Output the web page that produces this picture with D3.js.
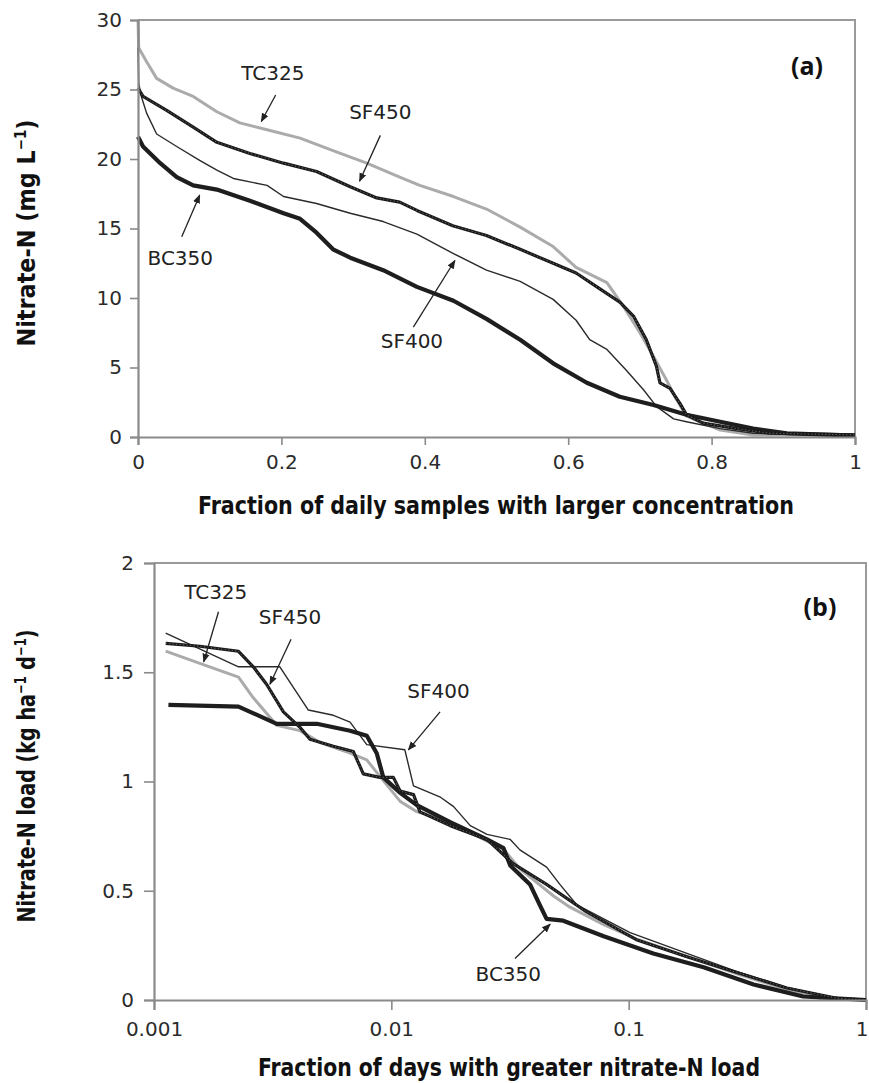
<!DOCTYPE html>
<html>
<head>
<meta charset="utf-8">
<script src="https://cdn.jsdelivr.net/npm/d3@7"></script>
<style>
  body { margin: 0; background: #fff; }
  svg { display: block; }
</style>
</head>
<body>
<div id="chart"></div>
<script>
var width = 869, height = 1083;

// (a) nitrate-N concentration duration curves  [fraction, mg/L]
var tc325A = [[0,30],[0.001,28],[0.012,27.0],[0.026,25.8],[0.049,25.1],[0.077,24.5],[0.110,23.4],[0.142,22.6],[0.180,22.1],[0.226,21.5],[0.272,20.6],[0.319,19.7],[0.365,18.7],[0.393,18.1],[0.440,17.3],[0.486,16.4],[0.533,15.1],[0.579,13.7],[0.611,12.2],[0.654,11.1],[0.677,9.4],[0.700,7.5],[0.719,5.8],[0.737,4.1],[0.751,2.7],[0.765,1.5],[0.812,0.5],[0.858,0.14],[1,0.1]];
var sf450A = [[0,25.1],[0.007,24.5],[0.040,23.5],[0.077,22.3],[0.110,21.2],[0.156,20.4],[0.203,19.7],[0.249,19.1],[0.296,18.0],[0.333,17.2],[0.365,16.9],[0.389,16.3],[0.439,15.2],[0.486,14.5],[0.533,13.5],[0.579,12.5],[0.611,11.8],[0.640,10.8],[0.672,9.7],[0.691,8.7],[0.709,7.0],[0.723,5.1],[0.728,3.9],[0.742,3.5],[0.756,2.4],[0.765,1.6],[0.788,1.0],[0.835,0.6],[0.881,0.27],[1,0.15]];
var sf400A = [[0,28],[0.001,25.5],[0.004,24.6],[0.012,23.3],[0.026,21.8],[0.054,20.9],[0.086,19.9],[0.110,19.2],[0.133,18.6],[0.180,18.1],[0.203,17.3],[0.249,16.8],[0.296,16.1],[0.342,15.5],[0.389,14.6],[0.440,13.2],[0.486,12.0],[0.533,11.2],[0.579,9.9],[0.611,8.4],[0.630,7.0],[0.654,6.3],[0.681,4.8],[0.705,3.4],[0.723,2.2],[0.747,1.3],[0.765,1.1],[0.812,0.6],[0.858,0.27],[1,0.12]];
var bc350A = [[0,21.6],[0.007,20.9],[0.031,19.7],[0.054,18.7],[0.077,18.1],[0.110,17.8],[0.156,17.0],[0.203,16.1],[0.226,15.7],[0.249,14.7],[0.272,13.5],[0.296,12.9],[0.342,12.0],[0.389,10.8],[0.440,9.8],[0.486,8.5],[0.533,7.0],[0.579,5.3],[0.626,3.9],[0.672,2.9],[0.719,2.3],[0.765,1.6],[0.812,1.1],[0.858,0.6],[0.905,0.27],[1,0.1]];

// (b) nitrate-N load duration curves  [fraction, kg/ha/d]
var tc325B = [[0.00112,1.597],[0.00156,1.541],[0.00227,1.478],[0.00262,1.383],[0.00329,1.257],[0.00412,1.233],[0.00501,1.178],[0.0067,1.130],[0.00788,1.099],[0.00925,1.004],[0.0109,0.909],[0.0128,0.862],[0.0177,0.814],[0.0253,0.727],[0.0297,0.690],[0.0348,0.600],[0.0408,0.540],[0.0484,0.475],[0.0566,0.425],[0.0785,0.345],[0.1077,0.280],[0.176,0.200],[0.286,0.120],[0.464,0.048],[0.64,0.008],[1,0]];
var sf450B = [[0.00112,1.632],[0.00156,1.619],[0.00227,1.596],[0.00262,1.525],[0.00298,1.445],[0.00351,1.319],[0.00412,1.248],[0.00454,1.193],[0.0057,1.161],[0.00692,1.137],[0.00762,1.035],[0.00894,1.019],[0.0102,1.019],[0.0109,0.956],[0.0124,0.940],[0.0132,0.861],[0.0177,0.798],[0.0253,0.735],[0.0326,0.624],[0.0451,0.529],[0.0665,0.403],[0.1077,0.276],[0.176,0.198],[0.286,0.126],[0.464,0.055],[0.753,0.008],[1,0]];
var sf400B = [[0.00112,1.679],[0.00227,1.525],[0.00339,1.525],[0.00447,1.327],[0.0057,1.303],[0.0067,1.272],[0.00788,1.169],[0.0114,1.145],[0.0124,0.980],[0.016,0.930],[0.0183,0.885],[0.0215,0.798],[0.0253,0.758],[0.0317,0.735],[0.0348,0.687],[0.0451,0.608],[0.0513,0.529],[0.0605,0.435],[0.0785,0.371],[0.1014,0.308],[0.176,0.213],[0.286,0.130],[0.464,0.058],[0.753,0.008],[1,0]];
var bc350B = [[0.00115,1.351],[0.00227,1.343],[0.00329,1.264],[0.00485,1.264],[0.0067,1.232],[0.00788,1.209],[0.00868,1.129],[0.00925,1.019],[0.0109,0.948],[0.0128,0.892],[0.0177,0.814],[0.0253,0.735],[0.0297,0.695],[0.0317,0.616],[0.0384,0.529],[0.0422,0.435],[0.0451,0.371],[0.053,0.363],[0.0785,0.292],[0.127,0.213],[0.207,0.150],[0.336,0.071],[0.544,0.016],[1,0]];

var ticksXA = [0, 0.2, 0.4, 0.6, 0.8, 1];
var ticksYA = [0, 5, 10, 15, 20, 25, 30];
var ticksXB = [0.001, 0.01, 0.1, 1];
var ticksYB = [0, 0.5, 1, 1.5, 2];

// annotations: [name, labelX, labelY, arrowFromX, arrowFromY, arrowToX, arrowToY]
var notesA = [
  ['TC325', 0.188, 26.2, 0.192, 24.6, 0.172, 22.7],
  ['SF450', 0.338, 23.4, 0.338, 21.7, 0.309, 18.4],
  ['BC350', 0.059, 12.9, 0.061, 14.4, 0.086, 17.4],
  ['SF400', 0.382, 6.9, 0.384, 7.9, 0.442, 12.7]
];
var notesB = [
  ['TC325', 0.00182, 1.866, 0.00187, 1.777, 0.00162, 1.548],
  ['SF450', 0.00374, 1.754, 0.00378, 1.651, 0.00308, 1.445],
  ['SF400', 0.0158, 1.414, 0.01604, 1.319, 0.0118, 1.145],
  ['BC350', 0.0311, 0.118, 0.0332, 0.190, 0.0467, 0.347]
];

var tickFont = '"DejaVu Sans", sans-serif';
var titleFont = '"Liberation Sans Narrow", "DejaVu Sans Condensed", "Liberation Sans", sans-serif';
var axisGrey = '#8a8a8a';

var svg = d3.select('#chart')
    .append('svg')
    .attr('width', width)
    .attr('height', height);

svg.append('rect').attr('width', width).attr('height', height).attr('fill', '#fff');

svg.append('defs').append('marker')
    .attr('id', 'arrow')
    .attr('viewBox', '0 0 10 10')
    .attr('refX', 9).attr('refY', 5)
    .attr('markerWidth', 9).attr('markerHeight', 9)
    .attr('markerUnits', 'userSpaceOnUse')
    .attr('orient', 'auto')
    .append('path')
    .attr('d', 'M0,1 L10,5 L0,9 Z')
    .attr('fill', '#222');

// series styles
var styles = {
  TC325: {stroke: '#ababab', width: 3},
  SF450: {stroke: '#1a1a1a', width: 3.2, dots: true},
  SF400: {stroke: '#2a2a2a', width: 1.4},
  BC350: {stroke: '#1e1e1e', width: 4.2}
};

function panel(opt) {
  var g = svg.append('g');
  var x = opt.x, y = opt.y;
  var x0 = x.range()[0], x1 = x.range()[1];
  var y0 = y.range()[0], y1 = y.range()[1];

  // frame (top + right)
  g.append('path')
    .attr('d', 'M' + x0 + ',' + y1 + 'H' + x1 + 'V' + y0)
    .attr('fill', 'none').attr('stroke', '#9a9a9a').attr('stroke-width', 2);

  var line = d3.line()
    .x(function(d){ return x(d[0]); })
    .y(function(d){ return y(d[1]); });

  opt.series.forEach(function(s) {
    var st = styles[s.name];
    g.append('path')
      .datum(s.data)
      .attr('d', line)
      .attr('fill', 'none')
      .attr('stroke', st.stroke)
      .attr('stroke-width', st.width)
      .attr('stroke-linejoin', 'round');
    if (st.dots) {
      g.append('path')
        .datum(s.data)
        .attr('d', line)
        .attr('fill', 'none')
        .attr('stroke', '#fff')
        .attr('stroke-opacity', 0.45)
        .attr('stroke-width', 0.9)
        .attr('stroke-dasharray', '1,2.5');
    }
  });

  var xAxis = d3.axisBottom(x).tickValues(opt.xTicks)
    .tickSize(opt.tick).tickPadding(opt.padX).tickFormat(opt.xFmt);
  var yAxis = d3.axisLeft(y).tickValues(opt.yTicks)
    .tickSize(opt.tick).tickPadding(opt.padY).tickFormat(opt.yFmt);

  var gx = g.append('g').attr('transform', 'translate(0,' + y0 + ')').call(xAxis);
  var gy = g.append('g').attr('transform', 'translate(' + x0 + ',0)').call(yAxis);
  [gx, gy].forEach(function(a) {
    a.select('.domain').attr('stroke', axisGrey).attr('stroke-width', 2.2);
    a.selectAll('.tick line').attr('stroke', axisGrey).attr('stroke-width', 1.6);
    a.selectAll('.tick text')
      .attr('font-family', tickFont)
      .attr('font-size', '20px')
      .attr('fill', '#2b2b2b');
  });

  // keep the last x label inside the page edge
  if (x1 > width - 8) {
    gx.selectAll('.tick text')
      .filter(function(d){ return d === opt.xTicks[opt.xTicks.length - 1]; })
      .attr('text-anchor', 'end').attr('x', 2);
  }

  // annotations
  opt.notes.forEach(function(n) {
    g.append('line')
      .attr('x1', x(n[3])).attr('y1', y(n[4]))
      .attr('x2', x(n[5])).attr('y2', y(n[6]))
      .attr('stroke', '#222').attr('stroke-width', 1.3)
      .attr('marker-end', 'url(#arrow)');
    g.append('text')
      .attr('x', x(n[1])).attr('y', y(n[2]))
      .attr('dy', '0.36em')
      .attr('text-anchor', 'middle')
      .attr('font-family', tickFont)
      .attr('font-size', '20px')
      .attr('fill', '#222')
      .text(n[0]);
  });

  // panel letter
  g.append('text')
    .attr('x', opt.letterPos[0]).attr('y', opt.letterPos[1])
    .attr('text-anchor', 'middle')
    .attr('font-family', '"Open Sans", sans-serif')
    .attr('font-weight', 700)
    .attr('font-size', '25px')
    .attr('fill', '#111')
    .text(opt.letter);

  // axis titles
  g.append('text')
    .attr('x', opt.xTitlePos[0]).attr('y', opt.xTitlePos[1])
    .attr('text-anchor', 'middle')
    .attr('font-family', titleFont)
    .attr('font-weight', 700)
    .attr('font-size', '25px')
    .attr('fill', '#111')
    .attr('textLength', opt.xTitlePos[2])
    .attr('lengthAdjust', 'spacingAndGlyphs')
    .text(opt.xTitle);

  var yt = g.append('text')
    .attr('transform', 'translate(' + opt.yTitlePos[0] + ',' + opt.yTitlePos[1] + ') rotate(-90)')
    .attr('text-anchor', 'middle')
    .attr('font-family', titleFont)
    .attr('font-weight', 700)
    .attr('font-size', '25px')
    .attr('fill', '#111')
    .attr('textLength', opt.yTitlePos[2])
    .attr('lengthAdjust', 'spacingAndGlyphs');
  opt.yTitle.forEach(function(p) {
    var t = yt.append('tspan').text(p[0]);
    if (p[1]) t.attr('baseline-shift', 'super').attr('font-size', '15px');
  });
}

var fmtA = function(d){ return d3.format('')(d); };

panel({
  x: d3.scaleLinear().domain([0, 1]).range([138, 855]),
  y: d3.scaleLinear().domain([0, 30]).range([437, 20]),
  xTicks: ticksXA, yTicks: ticksYA,
  xFmt: fmtA, yFmt: fmtA,
  tick: 8, padX: 10, padY: 8,
  series: [
    {name: 'TC325', data: tc325A},
    {name: 'SF400', data: sf400A},
    {name: 'BC350', data: bc350A},
    {name: 'SF450', data: sf450A}
  ],
  notes: notesA,
  letter: '(a)', letterPos: [807, 75],
  xTitle: 'Fraction of daily samples with larger concentration', xTitlePos: [496, 514, 596],
  yTitle: [['Nitrate-N (mg L'], ['\u22121', true], [')']], yTitlePos: [35, 233, 227]
});

panel({
  x: d3.scaleLog().domain([0.001, 1]).range([154, 866]),
  y: d3.scaleLinear().domain([0, 2]).range([1000, 563]),
  xTicks: ticksXB, yTicks: ticksYB,
  xFmt: function(d){ return String(d); }, yFmt: fmtA,
  tick: 10, padX: 12, padY: 10,
  series: [
    {name: 'TC325', data: tc325B},
    {name: 'SF400', data: sf400B},
    {name: 'BC350', data: bc350B},
    {name: 'SF450', data: sf450B}
  ],
  notes: notesB,
  letter: '(b)', letterPos: [820, 616],
  xTitle: 'Fraction of days with greater nitrate-N load', xTitlePos: [509, 1076, 502],
  yTitle: [['Nitrate-N load (kg ha'], ['\u22121', true], [' d'], ['\u22121', true], [')']], yTitlePos: [35, 776, 293]
});
</script>
</body>
</html>
